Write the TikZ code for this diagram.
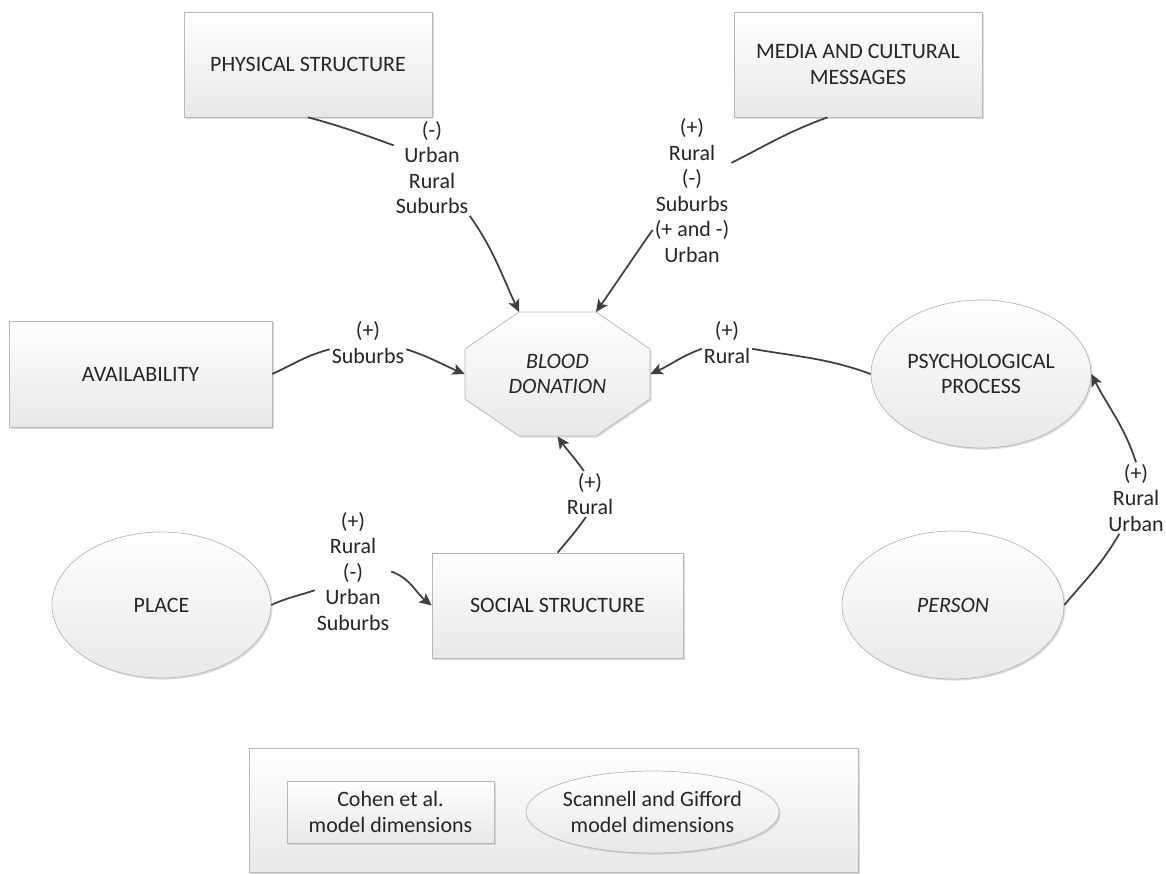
\documentclass[tikz,border=0pt]{standalone}
\usepackage{fontspec}
\setmainfont{Carlito}
\usetikzlibrary{
    arrows.meta,
    positioning,
    calc,
    shapes.geometric,
    shadows
}
\tikzset{
    % --- Common look of every dimension shape ---
    soft fill/.style = {
        draw=black!28, thin,
        top color=white, bottom color=black!9,
        drop shadow={shadow xshift=0.9pt, shadow yshift=-0.9pt,
                     fill=black!30, opacity=0.45}
    },
    % --- Cohen et al. dimension (rectangle) ---
    dim box/.style = {
        rectangle, soft fill,
        inner sep=0pt, align=center, text=black!85
    },
    % --- Scannell and Gifford dimension (ellipse) ---
    dim oval/.style = {
        ellipse, soft fill,
        inner sep=0pt, align=center, text=black!85
    },
    % --- Effect label sitting on a connector ---
    effect/.style = {
        fill=white, inner sep=1pt,
        align=center, text=black!85
    },
    % --- Curved influence connector ---
    link/.style = {
        draw=black!75, line width=1pt
    },
    link arrow/.style = {
        link, -{Stealth[length=7pt, width=6.5pt, inset=1.6pt]}
    }
}

\begin{document}
\begin{tikzpicture}[
    x=0.02cm, y=0.02cm,
    font=\fontsize{12.5}{14.5}\selectfont
]
\useasboundingbox (0,0) rectangle (1166,-873);

% ---------------------------------------------------------
% Central octagon
% ---------------------------------------------------------
\coordinate (bc) at (557.5,-374);
\path[soft fill]
    ($(bc)+(-38.5,62)$) coordinate (bNW) --
    ($(bc)+(38.5,62)$) coordinate (bNE) --
    ($(bc)+(92.5,25)$) -- ($(bc)+(92.5,-25)$) --
    ($(bc)+(38.5,-62)$) -- ($(bc)+(-38.5,-62)$) --
    ($(bc)+(-92.5,-25)$) -- ($(bc)+(-92.5,25)$) -- cycle;
\node[align=center, text=black!85, minimum width=3.7cm, minimum height=2.48cm,
      inner sep=0pt] (blood) at (bc) {\textit{BLOOD}\\\textit{DONATION}};

% ---------------------------------------------------------
% Dimensions
% ---------------------------------------------------------
\node[dim box, minimum width=4.96cm, minimum height=2.10cm] (phys) at (308,-64.5)
    {PHYSICAL STRUCTURE};
\node[dim box, minimum width=4.96cm, minimum height=2.10cm] (media) at (858,-64.5)
    {MEDIA AND CULTURAL\\MESSAGES};
\node[dim box, minimum width=5.26cm, minimum height=2.12cm] (avail) at (140.5,-374)
    {AVAILABILITY};
\node[dim box, minimum width=5.02cm, minimum height=2.10cm] (social) at (557.5,-605.5)
    {SOCIAL STRUCTURE};
\node[dim oval, minimum width=4.40cm, minimum height=2.96cm] (psych) at (981,-374)
    {PSYCHOLOGICAL\\PROCESS};
\node[dim oval, minimum width=4.38cm, minimum height=2.92cm] (place) at (161.5,-605)
    {PLACE};
\node[dim oval, minimum width=4.44cm, minimum height=2.96cm] (person) at (953,-605)
    {\textit{PERSON}};

% ---------------------------------------------------------
% Effect labels
% ---------------------------------------------------------
\node[effect] (l1) at (432,-167.5) {(-)\\Urban\\Rural\\Suburbs};
\node[effect] (l2) at (692,-190.5) {(+)\\Rural\\(-)\\Suburbs\\(+ and -)\\Urban};
\node[effect] (l3) at (368,-342.5) {(+)\\Suburbs};
\node[effect] (l4) at (727,-342.5) {(+)\\Rural};
\node[effect] (l5) at (590,-494) {(+)\\Rural};
\node[effect] (l6) at (353,-571.5) {(+)\\Rural\\(-)\\Urban\\Suburbs};
\node[effect] (l7) at (1136,-498) {(+)\\Rural\\Urban};

% ---------------------------------------------------------
% Connectors
% ---------------------------------------------------------
\draw[link] (phys.south) to[out=-15, in=160] (l1.150);
\draw[link arrow] (l1.-52) to[out=-55, in=115] (bNW);

\draw[link] (media.-120) to[out=200, in=27] (l2.35);
\draw[link arrow] (l2.225) to[out=235, in=55] (bNE);

\draw[link] (avail.east) to[out=25, in=195] (l3.190);
\draw[link arrow] (l3.-10) to[out=-18, in=157] (blood.west);

\draw[link] (psych.west) to[out=160, in=-10] (l4.-14);
\draw[link arrow] (l4.194) to[out=200, in=24] (blood.east);

\draw[link] (social.north) to[out=50, in=235] (l5.-100);
\draw[link arrow] (l5.105) to[out=125, in=-55] (blood.south);

\draw[link] (place.east) to[out=25, in=199] (l6.206);
\draw[link arrow] (l6.east) to[out=-20, in=141] (social.west);

\draw[link] (person.east) to[out=50, in=240] (l7.-115);
\draw[link arrow] (l7.north) to[out=108, in=-63] (psych.east);

% ---------------------------------------------------------
% Legend
% ---------------------------------------------------------
\node[dim box, minimum width=12.18cm, minimum height=2.48cm] (legend) at (553.5,-810) {};
\node[dim box, minimum width=4.14cm, minimum height=1.24cm] (legbox) at (390.5,-812)
    {Cohen et al.\\model dimensions};
\node[dim oval, minimum width=4.78cm, minimum height=1.64cm] (legoval) at (652.5,-812)
    {Scannell and Gifford\\model dimensions};

\end{tikzpicture}
\end{document}
